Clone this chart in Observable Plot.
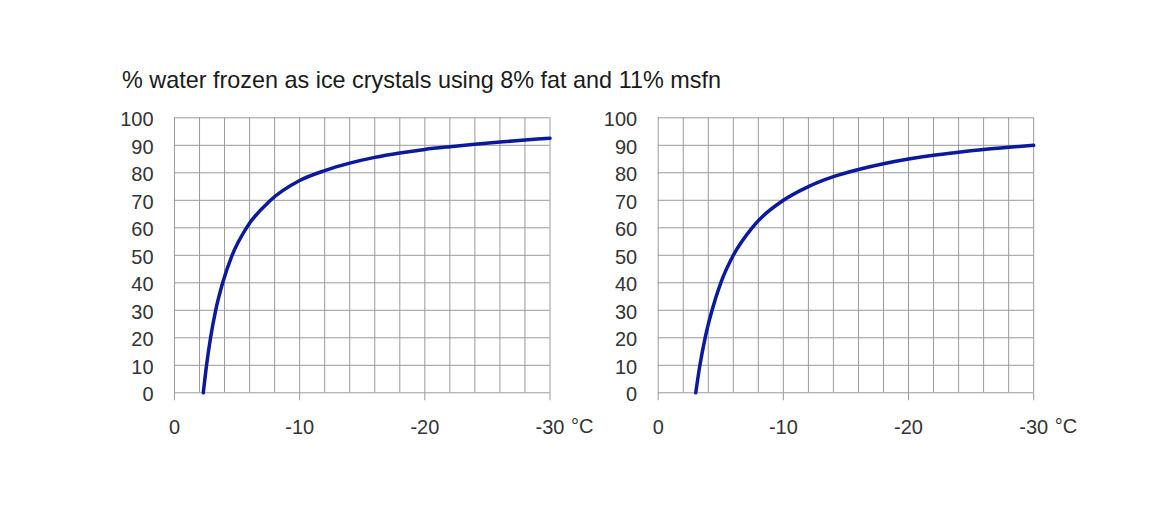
<!DOCTYPE html>
<html>
<head>
<meta charset="utf-8">
<script src="https://cdn.jsdelivr.net/npm/d3@7"></script>
<script src="https://cdn.jsdelivr.net/npm/@observablehq/plot@0.6"></script>
<style>
  html, body { margin: 0; padding: 0; background: #fff; }
  #wrap { position: relative; width: 1174px; height: 531px; overflow: hidden; font-family: "Liberation Sans", Arial, sans-serif; background: #fff; }
  #title { position: absolute; left: 122px; top: 67px; font-size: 23.4px; line-height: 27px; color: #1a1a1a; white-space: nowrap; }
  .panel { position: absolute; top: 100px; }
</style>
</head>
<body>
<div id="wrap">
  <div id="title">% water frozen as ice crystals using 8% fat and 11% msfn</div>
  <div id="left" class="panel" style="left:0px"></div>
  <div id="right" class="panel" style="left:596px"></div>
</div>
<script>
// Left panel: temperature (°C) vs % water frozen
const leftTemp   = [-2.3, -2.56, -2.88, -3.29, -3.85, -4.6, -5.75, -7.67, -10, -12, -14, -16, -18, -20, -22, -24, -26, -28, -30];
const leftFrozen = [0, 10, 20, 30, 40, 50, 60, 70, 77.2, 80.8, 83.5, 85.6, 87.2, 88.5, 89.5, 90.4, 91.2, 91.9, 92.6];
// Right panel
const rightTemp   = [-3.0, -3.33, -3.75, -4.3, -5.0, -6.0, -7.5, -10, -12, -14, -16, -18, -20, -22, -24, -26, -28, -30];
const rightFrozen = [0, 10, 20, 30, 40, 50, 60, 70, 75, 78.6, 81.2, 83.3, 85, 86.4, 87.5, 88.5, 89.3, 90];

const xTicks = [0, -10, -20, -30];
const xGrid = [0, -2, -4, -6, -8, -10, -12, -14, -16, -18, -20, -22, -24, -26, -28, -30];
const yTicks = [0, 10, 20, 30, 40, 50, 60, 70, 80, 90, 100];
const unit = "°C";

function panel(temp, frozen, ml, mr) {
  const data = temp.map((t, i) => ({t, f: frozen[i]}));
  const plotW = 375.5, plotH = 275;
  return Plot.plot({
    width: ml + plotW + mr,
    height: 17.3 + plotH + 60,
    marginLeft: ml,
    marginRight: mr,
    marginTop: 17.3,
    marginBottom: 60,
    style: {fontFamily: "Liberation Sans, Arial, sans-serif", fontSize: "20px", color: "#333", background: "transparent", overflow: "visible"},
    x: {domain: [0, -30]},
    y: {domain: [0, 100]},
    marks: [
      Plot.gridX(xGrid, {stroke: "#9a9a9a", strokeOpacity: 1, strokeWidth: 1}),
      Plot.gridY(yTicks, {stroke: "#9a9a9a", strokeOpacity: 1, strokeWidth: 1}),
      Plot.axisX({ticks: xTicks, tickSize: 8, tickPadding: 19, tickFormat: d => `${d}`, stroke: "#9a9a9a", fill: "#333", label: null}),
      Plot.axisY({ticks: yTicks, tickSize: 0, tickPadding: 21, tickFormat: d => `${d}`, fill: "#333", dy: 2, label: null}),
      Plot.line(data, {x: "t", y: "f", curve: "monotone-x", stroke: "#0b1a9c", strokeWidth: 3.5}),
      Plot.text([unit], {x: [-30], y: [0], dx: 21, dy: 34, textAnchor: "start", fill: "#333", fontSize: 20})
    ]
  });
}

document.getElementById("left").appendChild(panel(leftTemp, leftFrozen, 174, 60.5));
document.getElementById("right").appendChild(panel(rightTemp, rightFrozen, 657.7 - 596, 1174 - 1033.3));
</script>
</body>
</html>
